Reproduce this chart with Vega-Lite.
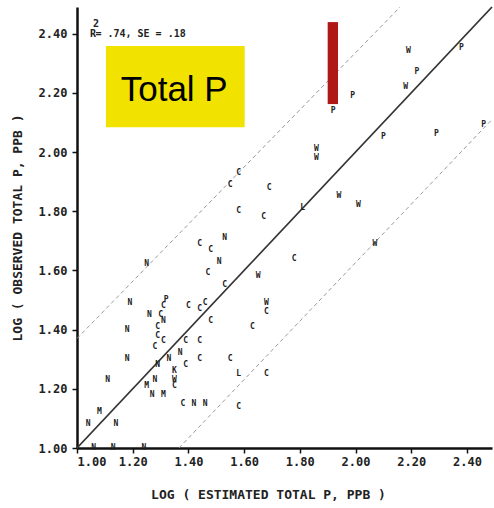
{
  "$schema": "https://vega.github.io/schema/vega-lite/v6.json",
  "width": 415,
  "height": 441,
  "autosize": {"type": "none"},
  "padding": {"left": 77, "top": 7, "right": 2, "bottom": 60},
  "background": "white",
  "view": {"stroke": null},
  "config": {
    "axis": {
      "grid": false,
      "domainColor": "#111",
      "domainWidth": 2.5,
      "tickColor": "#111",
      "tickWidth": 1.5,
      "tickSize": 5,
      "labelFont": "DejaVu Sans Mono",
      "labelFontWeight": "bold",
      "labelFontSize": 12,
      "labelColor": "#222",
      "titleFont": "DejaVu Sans Mono",
      "titleFontWeight": "bold",
      "titleFontSize": 13,
      "titleColor": "#222"
    }
  },
  "datasets": {
    "points": [
      {"est": 2.19, "obs": 2.34, "code": "W"},
      {"est": 2.38, "obs": 2.35, "code": "P"},
      {"est": 2.22, "obs": 2.27, "code": "P"},
      {"est": 2.18, "obs": 2.22, "code": "W"},
      {"est": 1.99, "obs": 2.19, "code": "P"},
      {"est": 1.92, "obs": 2.19, "code": "P"},
      {"est": 1.92, "obs": 2.14, "code": "P"},
      {"est": 2.10, "obs": 2.05, "code": "P"},
      {"est": 2.29, "obs": 2.06, "code": "P"},
      {"est": 2.46, "obs": 2.09, "code": "P"},
      {"est": 1.86, "obs": 2.01, "code": "W"},
      {"est": 1.86, "obs": 1.98, "code": "W"},
      {"est": 1.94, "obs": 1.85, "code": "W"},
      {"est": 2.01, "obs": 1.82, "code": "W"},
      {"est": 2.07, "obs": 1.69, "code": "W"},
      {"est": 1.81, "obs": 1.81, "code": "L"},
      {"est": 1.58, "obs": 1.93, "code": "C"},
      {"est": 1.55, "obs": 1.89, "code": "C"},
      {"est": 1.69, "obs": 1.88, "code": "C"},
      {"est": 1.58, "obs": 1.80, "code": "C"},
      {"est": 1.67, "obs": 1.78, "code": "C"},
      {"est": 1.53, "obs": 1.71, "code": "N"},
      {"est": 1.44, "obs": 1.69, "code": "C"},
      {"est": 1.48, "obs": 1.67, "code": "C"},
      {"est": 1.51, "obs": 1.63, "code": "N"},
      {"est": 1.78, "obs": 1.64, "code": "C"},
      {"est": 1.47, "obs": 1.59, "code": "C"},
      {"est": 1.65, "obs": 1.58, "code": "W"},
      {"est": 1.53, "obs": 1.55, "code": "C"},
      {"est": 1.40, "obs": 1.48, "code": "C"},
      {"est": 1.44, "obs": 1.47, "code": "C"},
      {"est": 1.46, "obs": 1.49, "code": "C"},
      {"est": 1.68, "obs": 1.49, "code": "W"},
      {"est": 1.68, "obs": 1.46, "code": "C"},
      {"est": 1.63, "obs": 1.41, "code": "C"},
      {"est": 1.48, "obs": 1.43, "code": "C"},
      {"est": 1.39, "obs": 1.36, "code": "C"},
      {"est": 1.44, "obs": 1.36, "code": "C"},
      {"est": 1.39, "obs": 1.28, "code": "C"},
      {"est": 1.44, "obs": 1.30, "code": "C"},
      {"est": 1.55, "obs": 1.30, "code": "C"},
      {"est": 1.58, "obs": 1.25, "code": "L"},
      {"est": 1.68, "obs": 1.25, "code": "C"},
      {"est": 1.58, "obs": 1.14, "code": "C"},
      {"est": 1.25, "obs": 1.62, "code": "N"},
      {"est": 1.19, "obs": 1.49, "code": "N"},
      {"est": 1.32, "obs": 1.50, "code": "P"},
      {"est": 1.31, "obs": 1.48, "code": "C"},
      {"est": 1.26, "obs": 1.45, "code": "N"},
      {"est": 1.30, "obs": 1.45, "code": "C"},
      {"est": 1.31, "obs": 1.43, "code": "N"},
      {"est": 1.29, "obs": 1.41, "code": "C"},
      {"est": 1.18, "obs": 1.40, "code": "N"},
      {"est": 1.29, "obs": 1.38, "code": "C"},
      {"est": 1.31, "obs": 1.36, "code": "C"},
      {"est": 1.28, "obs": 1.34, "code": "C"},
      {"est": 1.18, "obs": 1.30, "code": "N"},
      {"est": 1.37, "obs": 1.32, "code": "N"},
      {"est": 1.33, "obs": 1.30, "code": "N"},
      {"est": 1.29, "obs": 1.28, "code": "N"},
      {"est": 1.35, "obs": 1.26, "code": "K"},
      {"est": 1.35, "obs": 1.23, "code": "W"},
      {"est": 1.35, "obs": 1.21, "code": "C"},
      {"est": 1.11, "obs": 1.23, "code": "N"},
      {"est": 1.25, "obs": 1.21, "code": "M"},
      {"est": 1.28, "obs": 1.23, "code": "N"},
      {"est": 1.27, "obs": 1.18, "code": "N"},
      {"est": 1.31, "obs": 1.18, "code": "M"},
      {"est": 1.38, "obs": 1.15, "code": "C"},
      {"est": 1.42, "obs": 1.15, "code": "N"},
      {"est": 1.46, "obs": 1.15, "code": "N"},
      {"est": 1.08, "obs": 1.12, "code": "M"},
      {"est": 1.04, "obs": 1.08, "code": "N"},
      {"est": 1.14, "obs": 1.08, "code": "N"},
      {"est": 1.06, "obs": 1.00, "code": "N"},
      {"est": 1.13, "obs": 1.00, "code": "N"},
      {"est": 1.24, "obs": 1.00, "code": "N"}
    ],
    "lines": [
      {"line": "fit", "est": 1.0, "obs": 1.0},
      {"line": "fit", "est": 2.49, "obs": 2.49},
      {"line": "upper", "est": 1.0, "obs": 1.37},
      {"line": "upper", "est": 2.16, "obs": 2.49},
      {"line": "lower", "est": 1.366, "obs": 1.0},
      {"line": "lower", "est": 2.49, "obs": 2.11}
    ],
    "boxes": [
      {"name": "yellow", "x1": 1.104, "x2": 1.602, "y1": 2.084, "y2": 2.358},
      {"name": "red", "x1": 1.90, "x2": 1.937, "y1": 2.162, "y2": 2.439}
    ]
  },
  "layer": [
    {
      "data": {"name": "lines"},
      "transform": [{"filter": "datum.line != 'fit'"}],
      "mark": {"type": "line", "color": "#9a9a9a", "strokeWidth": 1, "strokeDash": [4, 3]},
      "encoding": {
        "x": {
          "field": "est", "type": "quantitative",
          "scale": {"domain": [1.0, 2.49], "nice": false, "zero": false},
          "axis": {
            "values": [1.0, 1.1, 1.2, 1.3, 1.4, 1.5, 1.6, 1.7, 1.8, 1.9, 2.0, 2.1, 2.2, 2.3, 2.4],
            "labelExpr": "round(datum.value*10) % 2 == 0 ? format(datum.value, '.2f') : ''",
            "labelPadding": 3,
            "title": "LOG ( ESTIMATED TOTAL P, PPB )",
            "titlePadding": 21,
            "titleX": 191
          }
        },
        "y": {
          "field": "obs", "type": "quantitative",
          "scale": {"domain": [1.0, 2.49], "nice": false, "zero": false},
          "axis": {
            "values": [1.0, 1.1, 1.2, 1.3, 1.4, 1.5, 1.6, 1.7, 1.8, 1.9, 2.0, 2.1, 2.2, 2.3, 2.4],
            "labelExpr": "round(datum.value*10) % 2 == 0 ? format(datum.value, '.2f') : ''",
            "labelPadding": 5,
            "title": "LOG ( OBSERVED TOTAL P, PPB )",
            "titlePadding": 14
          }
        },
        "detail": {"field": "line"}
      }
    },
    {
      "data": {"name": "lines"},
      "transform": [{"filter": "datum.line == 'fit'"}],
      "mark": {"type": "line", "color": "#333", "strokeWidth": 1.8},
      "encoding": {
        "x": {"field": "est", "type": "quantitative"},
        "y": {"field": "obs", "type": "quantitative"}
      }
    },
    {
      "mark": {"type": "rule", "color": "#111", "strokeWidth": 2.5},
      "encoding": {"y": {"datum": 2.49}}
    },
    {
      "data": {"name": "points"},
      "mark": {"type": "text", "font": "DejaVu Sans Mono", "fontWeight": "bold", "fontSize": 8, "color": "#222", "baseline": "middle", "align": "center"},
      "encoding": {
        "x": {"field": "est", "type": "quantitative"},
        "y": {"field": "obs", "type": "quantitative"},
        "text": {"field": "code"}
      }
    },
    {
      "data": {"name": "boxes"},
      "mark": {"type": "rect"},
      "encoding": {
        "x": {"field": "x1", "type": "quantitative"},
        "x2": {"field": "x2"},
        "y": {"field": "y1", "type": "quantitative"},
        "y2": {"field": "y2"},
        "color": {"field": "name", "type": "nominal", "scale": {"domain": ["yellow", "red"], "range": ["#f2e200", "#b01818"]}, "legend": null}
      }
    },
    {
      "data": {"values": [{"est": 1.349, "obs": 2.172, "label": "Total P"}]},
      "mark": {"type": "text", "font": "Liberation Sans", "fontSize": 35, "color": "#000", "align": "center", "baseline": "alphabetic"},
      "encoding": {
        "x": {"field": "est", "type": "quantitative"},
        "y": {"field": "obs", "type": "quantitative"},
        "text": {"field": "label"}
      }
    },
    {
      "data": {"values": [
        {"est": 1.047, "obs": 2.40, "label": "R"},
        {"est": 1.066, "obs": 2.40, "label": "= .74, SE = .18"},
        {"est": 1.057, "obs": 2.432, "label": "2"}
      ]},
      "mark": {"type": "text", "font": "DejaVu Sans Mono", "fontWeight": "bold", "fontSize": 10, "color": "#222", "align": "left", "baseline": "middle"},
      "encoding": {
        "x": {"field": "est", "type": "quantitative"},
        "y": {"field": "obs", "type": "quantitative"},
        "text": {"field": "label"}
      }
    }
  ]
}
